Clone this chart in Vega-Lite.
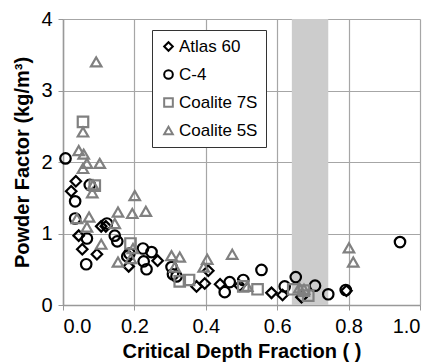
{
  "$schema": "https://vega.github.io/schema/vega-lite/v6.json",
  "width": 357,
  "height": 286,
  "autosize": {"type": "none"},
  "padding": {"left": 63, "top": 19, "right": 15, "bottom": 58},
  "background": "white",
  "config": {
    "view": {"stroke": null},
    "font": "Liberation Sans",
    "axis": {
      "labelFont": "Liberation Sans",
      "titleFont": "Liberation Sans",
      "labelFontSize": 20,
      "titleFontSize": 20,
      "titleFontWeight": "bold",
      "labelColor": "#000000",
      "titleColor": "#000000",
      "gridColor": "#a6a6a6",
      "gridWidth": 1.2,
      "gridOpacity": 1,
      "domainColor": "#999999",
      "domainWidth": 1.5,
      "tickColor": "#999999",
      "tickSize": 5,
      "labelPadding": 6,
      "zindex": 1
    }
  },
  "datasets": {
    "band": [{"lo": 0.641, "hi": 0.743}],
    "tests": [
      {"cdf": 0.036, "pf": 1.73, "series": "Atlas 60"},
      {"cdf": 0.023, "pf": 1.59, "series": "Atlas 60"},
      {"cdf": 0.044, "pf": 0.97, "series": "Atlas 60"},
      {"cdf": 0.054, "pf": 0.78, "series": "Atlas 60"},
      {"cdf": 0.095, "pf": 0.71, "series": "Atlas 60"},
      {"cdf": 0.107, "pf": 1.10, "series": "Atlas 60"},
      {"cdf": 0.120, "pf": 1.10, "series": "Atlas 60"},
      {"cdf": 0.184, "pf": 0.54, "series": "Atlas 60"},
      {"cdf": 0.265, "pf": 0.62, "series": "Atlas 60"},
      {"cdf": 0.374, "pf": 0.26, "series": "Atlas 60"},
      {"cdf": 0.397, "pf": 0.30, "series": "Atlas 60"},
      {"cdf": 0.407, "pf": 0.48, "series": "Atlas 60"},
      {"cdf": 0.440, "pf": 0.29, "series": "Atlas 60"},
      {"cdf": 0.495, "pf": 0.27, "series": "Atlas 60"},
      {"cdf": 0.584, "pf": 0.17, "series": "Atlas 60"},
      {"cdf": 0.615, "pf": 0.14, "series": "Atlas 60"},
      {"cdf": 0.668, "pf": 0.11, "series": "Atlas 60"},
      {"cdf": 0.794, "pf": 0.20, "series": "Atlas 60"},
      {"cdf": 0.007, "pf": 2.05, "series": "C-4"},
      {"cdf": 0.075, "pf": 1.68, "series": "C-4"},
      {"cdf": 0.034, "pf": 1.45, "series": "C-4"},
      {"cdf": 0.034, "pf": 1.21, "series": "C-4"},
      {"cdf": 0.067, "pf": 0.93, "series": "C-4"},
      {"cdf": 0.065, "pf": 0.57, "series": "C-4"},
      {"cdf": 0.123, "pf": 1.14, "series": "C-4"},
      {"cdf": 0.145, "pf": 0.97, "series": "C-4"},
      {"cdf": 0.152, "pf": 0.89, "series": "C-4"},
      {"cdf": 0.180, "pf": 0.68, "series": "C-4"},
      {"cdf": 0.186, "pf": 0.72, "series": "C-4"},
      {"cdf": 0.224, "pf": 0.79, "series": "C-4"},
      {"cdf": 0.248, "pf": 0.74, "series": "C-4"},
      {"cdf": 0.226, "pf": 0.61, "series": "C-4"},
      {"cdf": 0.234, "pf": 0.50, "series": "C-4"},
      {"cdf": 0.304, "pf": 0.53, "series": "C-4"},
      {"cdf": 0.308, "pf": 0.43, "series": "C-4"},
      {"cdf": 0.318, "pf": 0.40, "series": "C-4"},
      {"cdf": 0.453, "pf": 0.18, "series": "C-4"},
      {"cdf": 0.467, "pf": 0.32, "series": "C-4"},
      {"cdf": 0.505, "pf": 0.35, "series": "C-4"},
      {"cdf": 0.556, "pf": 0.49, "series": "C-4"},
      {"cdf": 0.621, "pf": 0.26, "series": "C-4"},
      {"cdf": 0.652, "pf": 0.39, "series": "C-4"},
      {"cdf": 0.706, "pf": 0.27, "series": "C-4"},
      {"cdf": 0.743, "pf": 0.15, "series": "C-4"},
      {"cdf": 0.792, "pf": 0.21, "series": "C-4"},
      {"cdf": 0.944, "pf": 0.88, "series": "C-4"},
      {"cdf": 0.056, "pf": 2.56, "series": "Coalite 7S"},
      {"cdf": 0.089, "pf": 1.67, "series": "Coalite 7S"},
      {"cdf": 0.189, "pf": 0.86, "series": "Coalite 7S"},
      {"cdf": 0.327, "pf": 0.33, "series": "Coalite 7S"},
      {"cdf": 0.353, "pf": 0.35, "series": "Coalite 7S"},
      {"cdf": 0.505, "pf": 0.26, "series": "Coalite 7S"},
      {"cdf": 0.545, "pf": 0.22, "series": "Coalite 7S"},
      {"cdf": 0.645, "pf": 0.22, "series": "Coalite 7S"},
      {"cdf": 0.675, "pf": 0.20, "series": "Coalite 7S"},
      {"cdf": 0.687, "pf": 0.13, "series": "Coalite 7S"},
      {"cdf": 0.093, "pf": 3.40, "series": "Coalite 5S"},
      {"cdf": 0.056, "pf": 2.42, "series": "Coalite 5S"},
      {"cdf": 0.044, "pf": 2.16, "series": "Coalite 5S"},
      {"cdf": 0.058, "pf": 2.11, "series": "Coalite 5S"},
      {"cdf": 0.067, "pf": 1.98, "series": "Coalite 5S"},
      {"cdf": 0.103, "pf": 1.98, "series": "Coalite 5S"},
      {"cdf": 0.056, "pf": 1.91, "series": "Coalite 5S"},
      {"cdf": 0.084, "pf": 1.68, "series": "Coalite 5S"},
      {"cdf": 0.082, "pf": 1.57, "series": "Coalite 5S"},
      {"cdf": 0.201, "pf": 1.53, "series": "Coalite 5S"},
      {"cdf": 0.154, "pf": 1.30, "series": "Coalite 5S"},
      {"cdf": 0.194, "pf": 1.28, "series": "Coalite 5S"},
      {"cdf": 0.232, "pf": 1.31, "series": "Coalite 5S"},
      {"cdf": 0.039, "pf": 1.21, "series": "Coalite 5S"},
      {"cdf": 0.073, "pf": 1.23, "series": "Coalite 5S"},
      {"cdf": 0.067, "pf": 1.09, "series": "Coalite 5S"},
      {"cdf": 0.145, "pf": 1.14, "series": "Coalite 5S"},
      {"cdf": 0.107, "pf": 0.85, "series": "Coalite 5S"},
      {"cdf": 0.154, "pf": 0.60, "series": "Coalite 5S"},
      {"cdf": 0.196, "pf": 0.79, "series": "Coalite 5S"},
      {"cdf": 0.190, "pf": 0.65, "series": "Coalite 5S"},
      {"cdf": 0.304, "pf": 0.69, "series": "Coalite 5S"},
      {"cdf": 0.313, "pf": 0.53, "series": "Coalite 5S"},
      {"cdf": 0.327, "pf": 0.67, "series": "Coalite 5S"},
      {"cdf": 0.404, "pf": 0.64, "series": "Coalite 5S"},
      {"cdf": 0.394, "pf": 0.53, "series": "Coalite 5S"},
      {"cdf": 0.474, "pf": 0.71, "series": "Coalite 5S"},
      {"cdf": 0.516, "pf": 0.26, "series": "Coalite 5S"},
      {"cdf": 0.662, "pf": 0.24, "series": "Coalite 5S"},
      {"cdf": 0.675, "pf": 0.22, "series": "Coalite 5S"},
      {"cdf": 0.801, "pf": 0.80, "series": "Coalite 5S"},
      {"cdf": 0.813, "pf": 0.60, "series": "Coalite 5S"}
    ]
  },
  "layer": [
    {
      "data": {"name": "band"},
      "mark": {"type": "rect", "color": "#cccccc"},
      "encoding": {
        "x": {"field": "lo", "type": "quantitative", "scale": {"domain": [0, 1]}},
        "x2": {"field": "hi"}
      }
    },
    {
      "data": {"name": "tests"},
      "mark": {"type": "point", "filled": false, "strokeWidth": 2.2, "size": 110, "opacity": 1},
      "encoding": {
        "x": {
          "field": "cdf",
          "type": "quantitative",
          "scale": {"domain": [0, 1], "nice": false},
          "axis": {"values": [0, 0.2, 0.4, 0.6, 0.8, 1.0], "format": ".1f", "title": "Critical Depth Fraction ( )", "titlePadding": 5}
        },
        "y": {
          "field": "pf",
          "type": "quantitative",
          "scale": {"domain": [0, 4], "nice": false},
          "axis": {"values": [0, 1, 2, 3, 4], "format": "d", "title": "Powder Factor (kg/m³)", "titlePadding": 8}
        },
        "shape": {
          "field": "series",
          "type": "nominal",
          "scale": {
            "domain": ["Atlas 60", "C-4", "Coalite 7S", "Coalite 5S"],
            "range": ["diamond", "circle", "square", "triangle-up"]
          },
          "legend": {
            "title": null,
            "orient": "none",
            "legendX": 89,
            "legendY": 11,
            "strokeColor": "#333333",
            "fillColor": "#ffffff",
            "padding": 8,
            "labelFontSize": 17,
            "labelFont": "Liberation Sans",
            "labelColor": "#000000",
            "labelOffset": 2,
            "rowPadding": 10,
            "symbolSize": 75,
            "symbolStrokeWidth": 2,
            "symbolFillColor": "transparent"
          }
        },
        "color": {
          "field": "series",
          "type": "nominal",
          "scale": {
            "domain": ["Atlas 60", "C-4", "Coalite 7S", "Coalite 5S"],
            "range": ["#000000", "#000000", "#808080", "#808080"]
          }
        }
      }
    }
  ]
}
